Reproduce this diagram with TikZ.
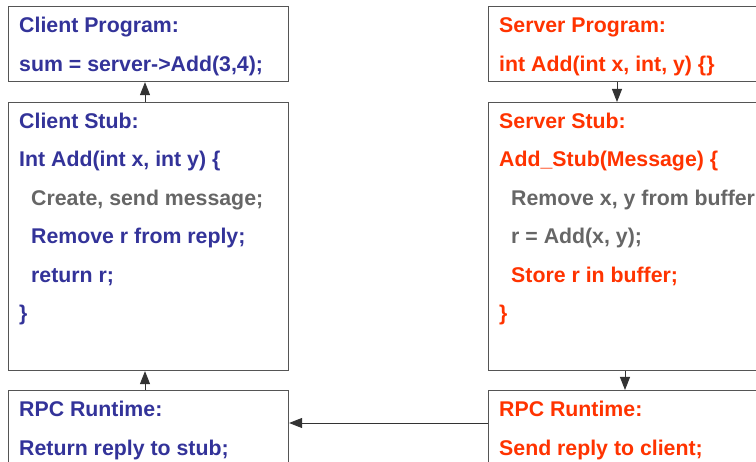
\documentclass[tikz,border=0pt]{standalone}
\usepackage{fontspec}
\setmainfont{Liberation Sans}
\usetikzlibrary{arrows.meta,calc}
\definecolor{cblue}{HTML}{333399}
\definecolor{cred}{HTML}{FF3300}
\definecolor{cgray}{HTML}{666666}
\definecolor{cline}{HTML}{555555}
\begin{document}
\begin{tikzpicture}[x=1pt,y=-1pt,
  box/.style={draw=cline,line width=1.1pt,rectangle,inner sep=0pt,anchor=north west,minimum width=280pt},
  txt/.style={anchor=base west,inner sep=0pt,font=\fontsize{21.3}{25}\selectfont\bfseries},
  arr/.style={draw=black!80,line width=0.9pt,-{Triangle[length=13pt,width=10pt]}}]
\useasboundingbox (0,0) rectangle (756,462);
\clip (0,0) rectangle (756,462);
% client boxes
\node[box,minimum height=75pt] (cprog) at (8,6) {};
\node[box,minimum height=268pt] (cstub) at (8,102) {};
\node[box,minimum height=80pt] (crpc) at (8,390) {};
% server boxes
\node[box,minimum height=75pt] (sprog) at (488,6) {};
\node[box,minimum height=268pt] (sstub) at (488,102) {};
\node[box,minimum height=80pt] (srpc) at (488,390) {};
% client texts
\node[txt,text=cblue] (t1) at (19,33) {Client Program:};
\node[txt,text=cblue] (t2) at (19,72) {sum = server->Add(3,4);};
\node[txt,text=cblue] (t3) at (19,129) {Client Stub:};
\node[txt,text=cblue] (t4) at (19,167) {Int Add(int x, int y) \{};
\node[txt,text=cgray] (t5) at (31,206) {Create, send message;};
\node[txt,text=cblue] (t6) at (31,244) {Remove r from reply;};
\node[txt,text=cblue] (t7) at (31,283) {return r;};
\node[txt,text=cblue] (t8) at (19,321) {\}};
\node[txt,text=cblue] (t9) at (19,417) {RPC Runtime:};
\node[txt,text=cblue] (t10) at (19,456) {Return reply to stub;};
% server texts
\node[txt,text=cred] (s1) at (499,33) {Server Program:};
\node[txt,text=cred] (s2) at (499,72) {int Add(int x, int, y) \{\}};
\node[txt,text=cred] (s3) at (499,129) {Server Stub:};
\node[txt,text=cred] (s4) at (499,167) {Add\_Stub(Message) \{};
\node[txt,text=cgray] (s5) at (511,206) {Remove x, y from buffer};
\node[txt,text=cgray] (s6) at (511,244) {r = Add(x, y);};
\node[txt,text=cred] (s7) at (511,283) {Store r in buffer;};
\node[txt,text=cred] (s8) at (499,321) {\}};
\node[txt,text=cred] (s9) at (499,417) {RPC Runtime:};
\node[txt,text=cred] (s10) at (499,456) {Send reply to client;};
% connectors
\draw[arr] ($(cstub.north west)+(137,0)$) -- ($(cprog.south west)+(137,0)$);
\draw[arr] ($(crpc.north west)+(137,0)$) -- ($(cstub.south west)+(137,0)$);
\draw[arr] ($(sprog.south west)+(129,0)$) -- ($(sstub.north west)+(129,0)$);
\draw[arr] ($(sstub.south west)+(137,0)$) -- ($(srpc.north west)+(137,0)$);
\draw[arr] ($(srpc.north west)+(0,33)$) -- ($(crpc.north east)+(0,33)$);
\end{tikzpicture}
\end{document}
